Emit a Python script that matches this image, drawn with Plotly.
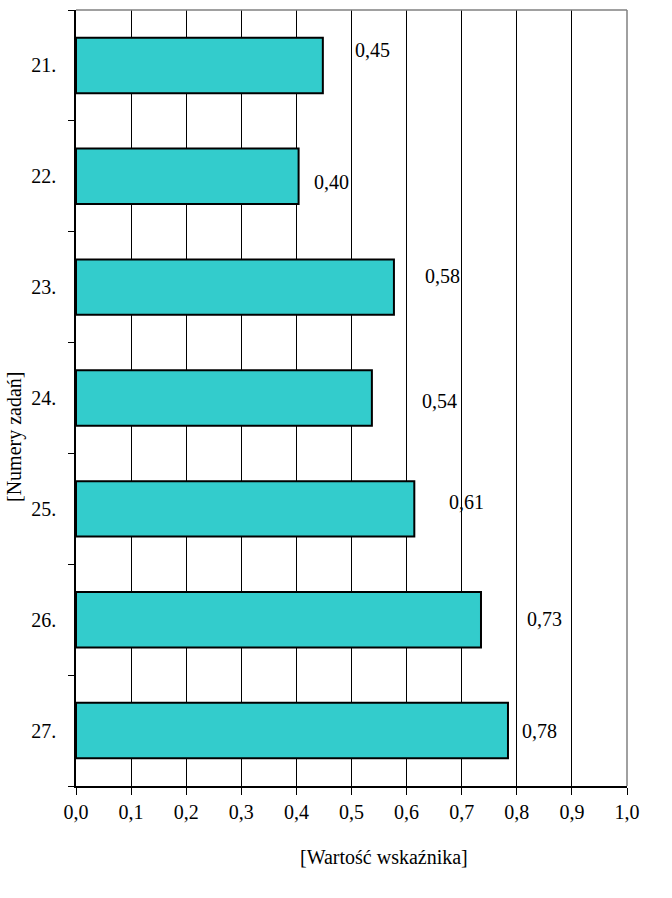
import plotly.graph_objects as go

categories = ["21.", "22.", "23.", "24.", "25.", "26.", "27."]
values = [0.448, 0.404, 0.577, 0.537, 0.614, 0.735, 0.784]
value_labels = ["0,45", "0,40", "0,58", "0,54", "0,61", "0,73", "0,78"]
# label placement (data-unit left edge, vertical pixel shift) as in the original
label_x = [0.502, 0.428, 0.629, 0.624, 0.673, 0.815, 0.806]
label_shift = [15, -6, 11, -3, 7, 1, 0]
x_ticks = [i / 10 for i in range(11)]
x_tick_text = [f"{t:.1f}".replace(".", ",") for t in x_ticks]

FONT = "Liberation Serif"
FS = 20

fig = go.Figure()
fig.add_trace(go.Bar(
    y=list(range(len(categories))), x=values, orientation="h",
    marker=dict(color="#33CCCC", line=dict(color="black", width=2)),
    width=0.5, hoverinfo="skip",
))

for i, (lx, lab, sh) in enumerate(zip(label_x, value_labels, label_shift)):
    fig.add_annotation(x=lx, y=i, text=lab, showarrow=False, xanchor="left",
                       yanchor="middle", yshift=sh,
                       font=dict(family=FONT, size=FS, color="black"))

fig.add_annotation(x=0, y=0.4497, xref="paper", yref="paper",
                   text="[Numery zadań]", showarrow=False, textangle=-90,
                   xanchor="center", yanchor="middle", xshift=-62,
                   font=dict(family=FONT, size=FS, color="black"))
fig.add_annotation(x=0.559, y=0, xref="paper", yref="paper", yshift=-71,
                   xanchor="center", yanchor="middle",
                   text="[Wartość wskaźnika]", showarrow=False,
                   font=dict(family=FONT, size=FS, color="black"))

fig.add_shape(type="line", xref="paper", yref="paper", x0=0, x1=1, y0=1, y1=1,
              line=dict(color="#808080", width=1.5))
fig.add_shape(type="line", xref="paper", yref="paper", x0=1, x1=1, y0=0, y1=1,
              line=dict(color="#808080", width=1.5))

fig.update_layout(
    width=672, height=898,
    margin=dict(l=76, r=45, t=10, b=112),
    paper_bgcolor="white", plot_bgcolor="white",
    showlegend=False,
    font=dict(family=FONT, size=FS, color="black"),
)
fig.update_xaxes(
    range=[0, 1.0], tickvals=x_ticks, ticktext=x_tick_text,
    showgrid=True, gridcolor="black", gridwidth=1,
    showline=True, linecolor="black", linewidth=1.5,
    ticks="outside", ticklen=7, tickcolor="black", zeroline=False,
    tickfont=dict(family=FONT, size=FS),
)
fig.update_yaxes(
    range=[len(categories) - 0.5, -0.5],
    tickvals=list(range(len(categories))), ticktext=categories,
    showgrid=False, zeroline=False,
    showline=True, linecolor="black", linewidth=1.5,
    ticks="", ticklabelstandoff=14,
    tickfont=dict(family=FONT, size=FS),
    minor=dict(tickvals=[i - 0.5 for i in range(len(categories) + 1)],
               ticks="outside", ticklen=6, tickcolor="black", showgrid=False),
)

fig.write_html("out.html")
